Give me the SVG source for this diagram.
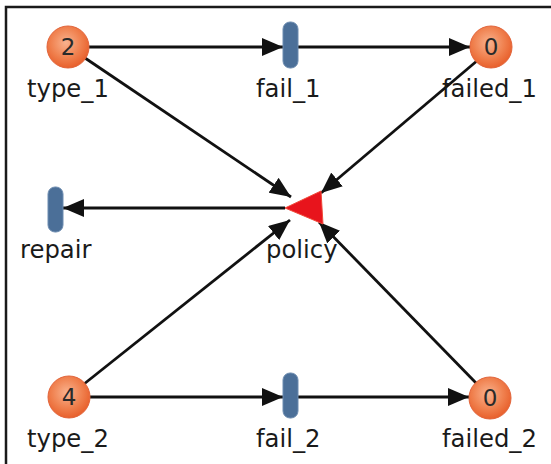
<svg xmlns="http://www.w3.org/2000/svg" width="551" height="464" viewBox="0 0 551 464">
<style>
.lbl{font-family:"DejaVu Sans","Verdana",sans-serif;font-size:24.3px;fill:#1a1a1a}
.num{font-family:"DejaVu Sans","Verdana",sans-serif;font-size:23px;fill:#2a2a2a;text-anchor:middle}
.place{fill:url(#og);stroke:#e2643a;stroke-width:1}
.trans{fill:#4b6f98;stroke:#6d8cb0;stroke-width:1}
.edge{stroke:#111;stroke-width:2.8;fill:none;marker-end:url(#ah)}
</style>
<defs>
<radialGradient id="og" cx="0.45" cy="0.4" r="0.6">
<stop offset="0" stop-color="#f9b28e"/>
<stop offset="0.6" stop-color="#f0814f"/>
<stop offset="1" stop-color="#e8602c"/>
</radialGradient>
<marker id="ah" markerUnits="userSpaceOnUse" markerWidth="21" markerHeight="18" viewBox="0 0 21 18" refX="21" refY="9" orient="auto">
<path d="M0,0 L21,9 L0,18 z" fill="#111"/>
</marker>
</defs>
<rect width="551" height="464" fill="#fff"/>
<path d="M6,464 V7 H551" fill="none" stroke="#1a1a1a" stroke-width="2.5"/>
<g id="connectors">
<line class="edge" x1="89" y1="47" x2="283" y2="47"/>
<line class="edge" x1="298" y1="47" x2="470" y2="47"/>
<line class="edge" x1="85" y1="58" x2="291" y2="197"/>
<line class="edge" x1="478" y1="60" x2="321" y2="193"/>
<line class="edge" x1="285" y1="208" x2="63" y2="208"/>
<line class="edge" x1="84" y1="384" x2="290" y2="220"/>
<line class="edge" x1="478" y1="385" x2="319" y2="222"/>
<line class="edge" x1="90" y1="397" x2="283" y2="397"/>
<line class="edge" x1="298" y1="397" x2="469" y2="397"/>
</g>
<g id="type_1">
<circle class="place" cx="68" cy="47" r="21"/>
<text class="num" x="68" y="55">2</text>
<text class="lbl" x="27" y="97">type_1</text>
</g>
<g id="fail_1">
<rect class="trans" x="283" y="22" width="15" height="46" rx="7"/>
<text class="lbl" x="256" y="97">fail_1</text>
</g>
<g id="failed_1">
<circle class="place" cx="491" cy="47" r="21"/>
<text class="num" x="491" y="55">0</text>
<text class="lbl" x="442" y="97">failed_1</text>
</g>
<g id="repair">
<rect class="trans" x="48" y="187" width="15" height="45" rx="7"/>
<text class="lbl" x="20" y="258">repair</text>
</g>
<g id="policy">
<path d="M285,208 L321,191 L323,224 Z" fill="#e8141c" stroke="#f04a3a" stroke-width="1"/>
<text class="lbl" x="266" y="258">policy</text>
</g>
<g id="type_2">
<circle class="place" cx="69" cy="397" r="21"/>
<text class="num" x="69" y="405">4</text>
<text class="lbl" x="27" y="447">type_2</text>
</g>
<g id="fail_2">
<rect class="trans" x="283" y="373" width="15" height="45" rx="7"/>
<text class="lbl" x="256" y="447">fail_2</text>
</g>
<g id="failed_2">
<circle class="place" cx="490" cy="398" r="21"/>
<text class="num" x="490" y="406">0</text>
<text class="lbl" x="442" y="447">failed_2</text>
</g>
</svg>
